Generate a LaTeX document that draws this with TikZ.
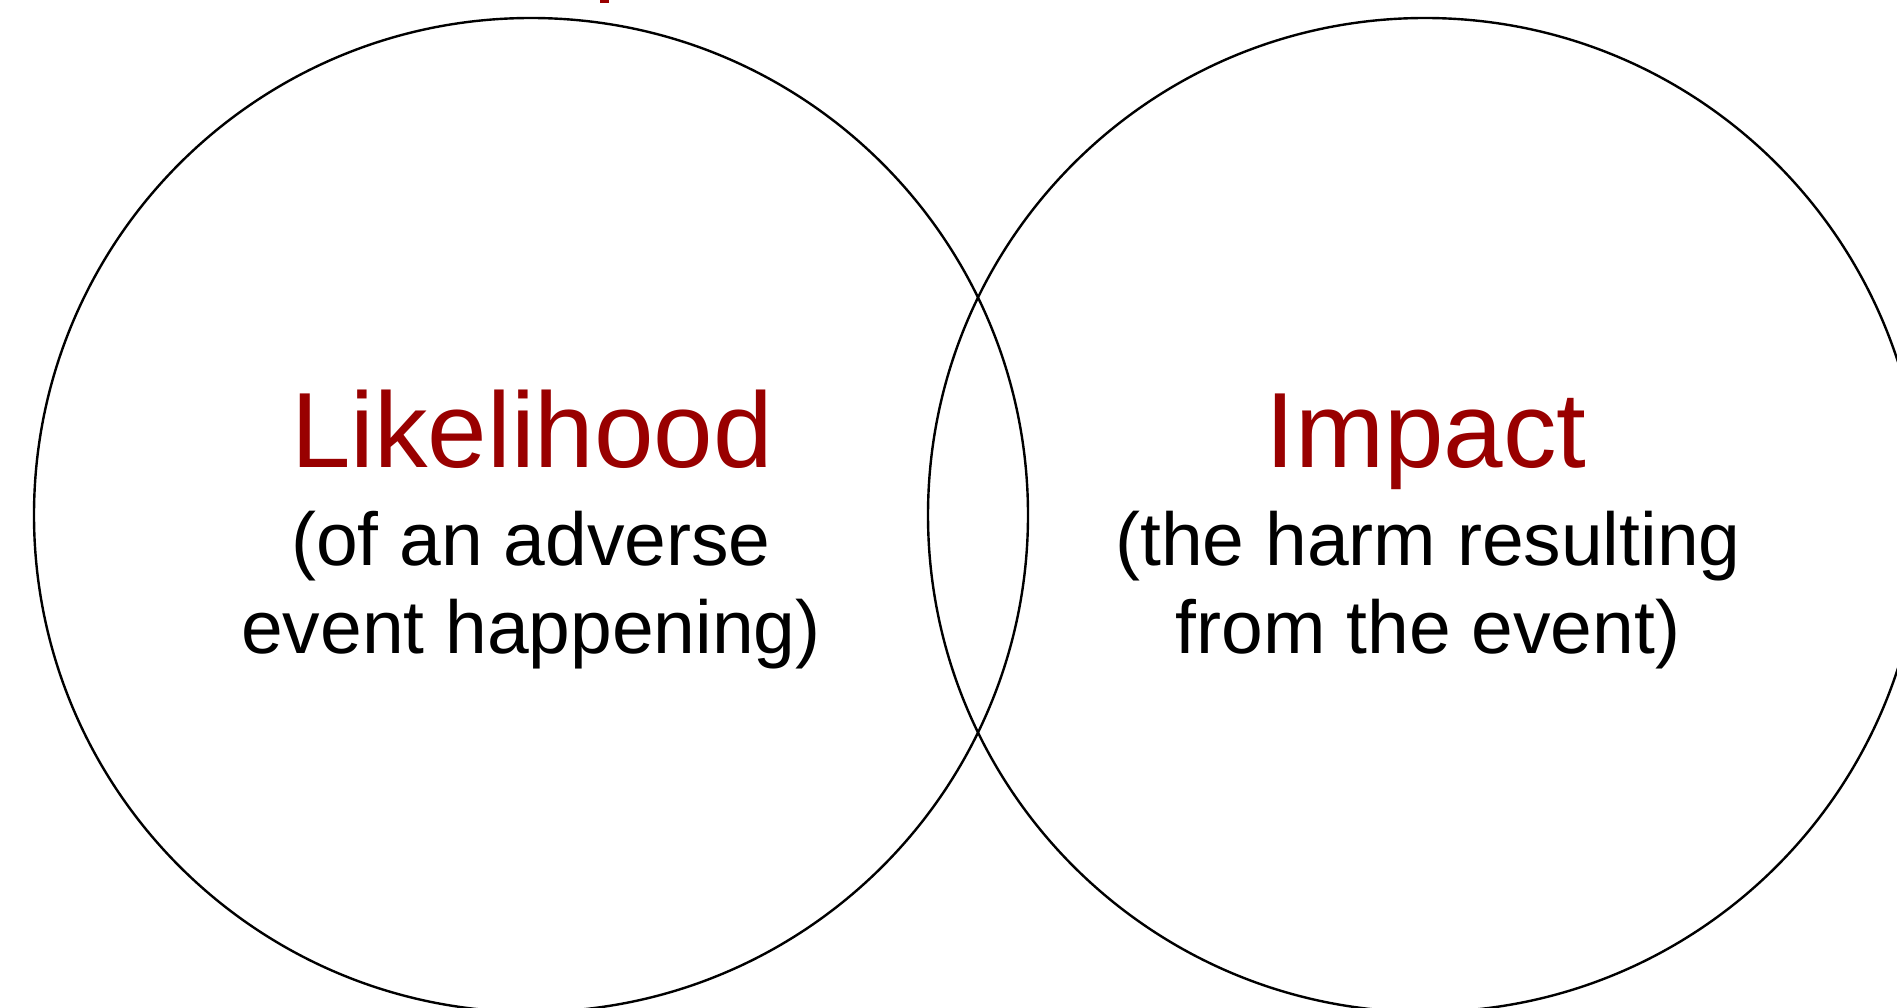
\documentclass[tikz,border=0pt]{standalone}
\usepackage{fontspec}
\setmainfont{Liberation Sans}
\definecolor{riskred}{HTML}{990000}
\begin{document}
\begin{tikzpicture}[x=1pt,y=-1pt,
  ring/.style={circle, draw=black, line width=2.4pt, minimum size=994pt, inner sep=0pt, outer sep=0pt},
  titletext/.style={anchor=base, text=riskred, font=\fontsize{107}{130}\selectfont, inner sep=0pt},
  subtext/.style={anchor=base, text=black, font=\fontsize{75}{89}\selectfont, inner sep=0pt}]
\useasboundingbox (0,0) rectangle (1897,1008);
\clip (0,0) rectangle (1897,1008);
\fill[white] (0,0) rectangle (1897,1008);
% circles
\node[ring] (left) at (531,515) {};
\node[ring] (right) at (1425,515) {};
% cut-off red mark at top
\fill[riskred] (600,0) rectangle (609,3);
% left texts
\node[titletext] (likelihood) at (532,467) {Likelihood};
\node[subtext] (l2) at (531,565) {(of an adverse};
\node[subtext] (l3) at (531,653) {event happening)};
% right texts
\node[titletext] (impact) at (1426,467) {Impact};
\node[subtext] (r2) at (1428,565) {(the harm resulting};
\node[subtext] (r3) at (1428,653) {from the event)};
\end{tikzpicture}
\end{document}
